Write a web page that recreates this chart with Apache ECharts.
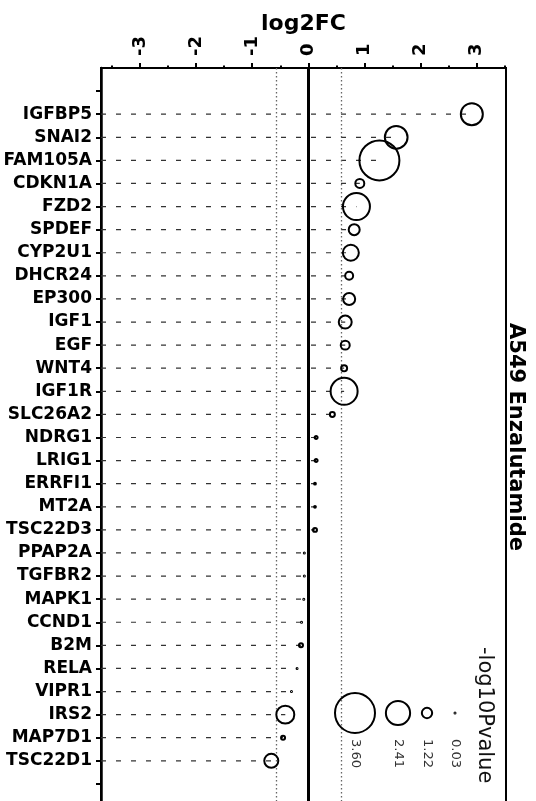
<!DOCTYPE html>
<html>
<head>
<meta charset="utf-8">
<script src="https://cdn.jsdelivr.net/npm/echarts@6/dist/echarts.min.js"></script>
<style>
  html, body { margin: 0; padding: 0; background: #fff; }
  #chart { width: 536px; height: 801px; }
</style>
</head>
<body>
<div id="chart"></div>
<script>
// Genes, top to bottom
const genes = ['IGFBP5', 'SNAI2', 'FAM105A', 'CDKN1A', 'FZD2', 'SPDEF', 'CYP2U1', 'DHCR24',
  'EP300', 'IGF1', 'EGF', 'WNT4', 'IGF1R', 'SLC26A2', 'NDRG1', 'LRIG1', 'ERRFI1', 'MT2A',
  'TSC22D3', 'PPAP2A', 'TGFBR2', 'MAPK1', 'CCND1', 'B2M', 'RELA', 'VIPR1', 'IRS2', 'MAP7D1', 'TSC22D1'];

// log2 fold change per gene
const log2FC = [2.92, 1.57, 1.27, 0.92, 0.86, 0.82, 0.76, 0.73,
  0.73, 0.66, 0.66, 0.64, 0.64, 0.43, 0.14, 0.14, 0.12, 0.12,
  0.12, -0.07, -0.07, -0.08, -0.12, -0.13, -0.20, -0.30, -0.41, -0.45, -0.66];

// -log10 P value per gene (drives circle size)
const negLog10P = [2.23, 2.29, 3.60, 1.09, 2.63, 1.28, 1.73, 0.99,
  1.38, 1.46, 1.09, 0.79, 2.63, 0.68, 0.45, 0.45, 0.30, 0.30,
  0.57, 0.19, 0.15, 0.15, 0.15, 0.57, 0.10, 0.10, 1.90, 0.57, 1.56];

// x axis ticks
const xTicks = [-3, -2, -1, 0, 1, 2, 3];
const xHalfTicks = [-3.5, -2.5, -1.5, -0.5, 0.5, 1.5, 2.5, 3.5];

// size key
const keyValues = [3.60, 2.41, 1.22, 0.03];
const keyLabels = ['3.60', '2.41', '1.22', '0.03'];

// fold-change threshold (log2 of 1.5)
const fcThreshold = 0.585;

const X_MIN = -3.7, X_MAX = 3.53;

function sizeOf(p) {
  return Math.max(1, 40 * Math.pow(p / 3.6, 1.25));
}

const yTicks = [];
for (let i = 0; i <= genes.length + 1; i++) yTicks.push(i);
const yLabelValues = genes.map((g, i) => i + 1);

const points = genes.map((g, i) => [log2FC[i], i + 1, negLog10P[i]]);

const chart = echarts.init(document.getElementById('chart'), null, { renderer: 'canvas' });

const boldFont = 'DejaVu Sans';

// size key drawn as graphics
const keyX = [355, 398, 427, 455];
const keyY = 713;
const keyGraphics = [];
keyValues.forEach((v, i) => {
  keyGraphics.push({
    type: 'circle',
    shape: { cx: keyX[i], cy: keyY, r: sizeOf(v) / 2 },
    style: { fill: 'none', stroke: '#000', lineWidth: 2 },
    z: 10
  });
  keyGraphics.push({
    type: 'text',
    x: keyX[i], y: 739,
    rotation: -Math.PI / 2,
    style: {
      text: keyLabels[i], fill: '#333',
      font: '13px "DejaVu Sans"',
      align: 'left', verticalAlign: 'middle'
    },
    z: 10
  });
});
keyGraphics.push({
  type: 'text',
  x: 484, y: 647,
  rotation: -Math.PI / 2,
  style: {
    text: '-log10Pvalue', fill: '#111',
    font: '21px "DejaVu Sans"',
    align: 'left', verticalAlign: 'middle'
  },
  z: 10
});

const option = {
  animation: false,
  backgroundColor: '#fff',
  grid: {
    left: 101, right: 30, top: 68, bottom: -6,
    outerBoundsMode: 'none',
    containLabel: false,
    show: true, borderColor: '#000', borderWidth: 2, backgroundColor: 'transparent'
  },
  xAxis: [
    {
      type: 'value',
      position: 'top',
      min: X_MIN, max: X_MAX,
      name: 'log2FC',
      nameLocation: 'middle',
      nameGap: 33,
      nameMoveOverlap: false,
      nameTextStyle: { fontFamily: boldFont, fontWeight: 'bold', fontSize: 22, color: '#000' },
      axisLine: { show: true, onZero: false, lineStyle: { color: '#000', width: 2 } },
      axisTick: { show: true, length: 5, customValues: xTicks, lineStyle: { color: '#000', width: 2 } },
      axisLabel: {
        customValues: xTicks, rotate: -90, margin: 12,
        fontFamily: boldFont, fontWeight: 'bold', fontSize: 18, color: '#000',
        formatter: v => String(v)
      },
      splitLine: { show: false }
    },
    {
      type: 'value',
      position: 'top',
      min: X_MIN, max: X_MAX,
      axisLine: { show: false, onZero: false },
      axisTick: { show: true, length: 2.5, customValues: xHalfTicks, lineStyle: { color: '#000', width: 2 } },
      axisLabel: { show: false },
      splitLine: { show: false }
    }
  ],
  yAxis: {
    type: 'value',
    inverse: true,
    min: -1, max: 31,
    axisLine: { show: true, onZero: false, lineStyle: { color: '#000', width: 2.5 } },
    axisTick: { show: true, length: 5, customValues: yTicks, lineStyle: { color: '#000', width: 2 } },
    axisLabel: {
      customValues: yLabelValues, margin: 9,
      fontFamily: boldFont, fontWeight: 'bold', fontSize: 17, color: '#000',
      formatter: v => genes[v - 1] || ''
    },
    splitLine: { show: false }
  },
  series: [
    {
      // dashed guide from the left edge to each gene's point
      type: 'custom',
      xAxisIndex: 0,
      data: genes.map((g, i) => [log2FC[i], i + 1]),
      encode: { x: 0, y: 1 },
      renderItem: function (params, api) {
        const y = api.value(1);
        const p0 = api.coord([X_MIN, y]);
        const p1 = api.coord([api.value(0), y]);
        return {
          type: 'line',
          shape: { x1: p0[0], y1: p0[1], x2: p1[0], y2: p1[1] },
          style: { stroke: '#333', lineWidth: 1.2, lineDash: [5, 10] }
        };
      },
      z: 2,
      markLine: {
        silent: true,
        symbol: 'none',
        label: { show: false },
        data: [
          { xAxis: -fcThreshold, lineStyle: { color: '#666', width: 1.3, type: [1.5, 2.5] } },
          { xAxis: fcThreshold, lineStyle: { color: '#666', width: 1.3, type: [1.5, 2.5] } },
          { xAxis: 0, lineStyle: { color: '#000', width: 3, type: 'solid' } }
        ]
      }
    },
    {
      type: 'scatter',
      xAxisIndex: 0,
      data: points,
      symbol: 'circle',
      symbolSize: v => sizeOf(v[2]),
      itemStyle: { color: 'rgba(255,255,255,0)', borderColor: '#000', borderWidth: 2, opacity: 1 },
      z: 5
    }
  ],
  graphic: [
    {
      type: 'text',
      x: 515, y: 437,
      rotation: -Math.PI / 2,
      style: {
        text: 'A549 Enzalutamide', fill: '#000',
        font: 'bold 21px "DejaVu Sans"',
        align: 'center', verticalAlign: 'middle'
      },
      z: 10
    }
  ].concat(keyGraphics)
};

chart.setOption(option);
</script>
</body>
</html>
